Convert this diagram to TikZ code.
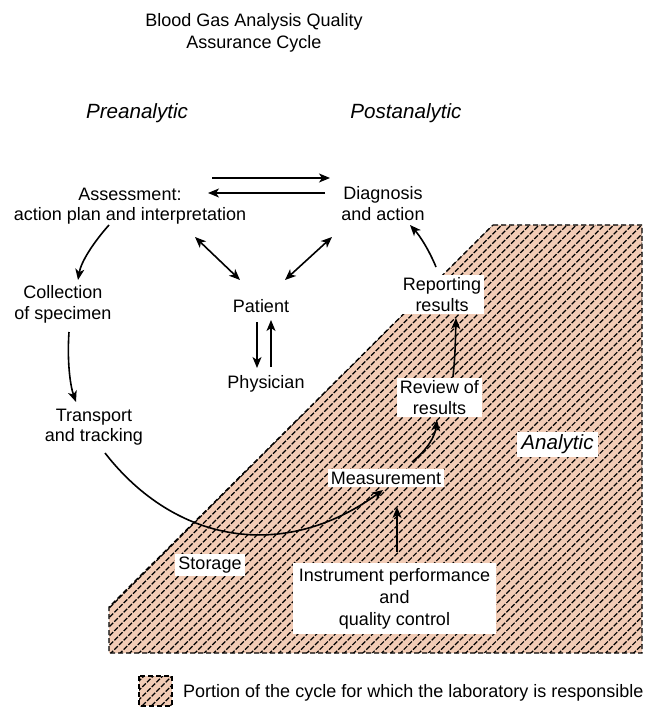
\documentclass[tikz,border=0pt]{standalone}
\usepackage{fontspec}
\setmainfont{Liberation Sans}
\usetikzlibrary{arrows.meta,patterns.meta}
\definecolor{peach}{RGB}{242,204,182}
\begin{document}
\begin{tikzpicture}[x=1pt,y=-1pt,
  lbl/.style={align=center,font=\fontsize{18}{20.5}\selectfont,inner sep=0pt},
  box/.style={lbl,fill=white,inner xsep=3pt,inner ysep=3pt},
  head/.style={font=\fontsize{20.6}{23}\selectfont\itshape,inner sep=0pt},
  tip/.style={Stealth[length=11pt,width=9pt,inset=3pt]},
  arr/.style={line width=1.6pt,-{Stealth[length=11pt,width=9pt,inset=3pt]}},
  darr/.style={line width=1.6pt,{Stealth[length=11pt,width=9pt,inset=3pt]}-{Stealth[length=11pt,width=9pt,inset=3pt]}},
  region/.style={fill=peach,draw=black,line width=1.4pt,dash pattern=on 5pt off 3pt,
    postaction={pattern={Lines[angle=45,distance=6.6pt,line width=1.2pt]},pattern color=black}}
]
\useasboundingbox (0,0) rectangle (652,708);

% laboratory region
\draw[region] (493,225) -- (642,225) -- (642,653) -- (109,653) -- (109,607) -- cycle;

% texts
\node[lbl,font=\fontsize{18}{21.5}\selectfont] (title) at (254,33) {Blood Gas Analysis Quality\\Assurance Cycle};
\node[head] (pre) at (137,113.6) {Preanalytic};
\node[head] (post) at (406,113.6) {Postanalytic};
\node[lbl] (assess) at (130,206) {Assessment:\\action plan and interpretation};
\node[lbl] (diag) at (383,203.5) {Diagnosis\\and action};
\node[lbl] (patient) at (261,306.5) {Patient};
\node[lbl] (phys) at (266,383.4) {Physician};
\node[lbl] (coll) at (63,304.4) {Collection\\of specimen};
\node[lbl] (trans) at (94,427.4) {Transport\\and tracking};

\node[box] (meas) at (386,478) {Measurement};
\node[box] (review) at (439.5,397.5) {Review of\\results};
\node[box] (report) at (442,294.5) {Reporting\\results};
\node[box,font=\fontsize{20.6}{23}\selectfont\itshape,inner xsep=4.5pt] (analytic) at (557.5,444.5) {Analytic};
\node[box] (storage) at (210,565) {Storage};
\node[box,font=\fontsize{18}{22}\selectfont,inner xsep=6pt,inner ysep=5pt] (inst) at (394.5,598.5) {Instrument performance\\and\\quality control};

% connector end points
\coordinate (ad1) at (212,178); \coordinate (ad2) at (330,178);
\coordinate (da1) at (325,193); \coordinate (da2) at (208,193);
\coordinate (ap1) at (195,237); \coordinate (ap2) at (240,280);
\coordinate (dp1) at (332,237); \coordinate (dp2) at (285,280);
\coordinate (pp1) at (257,322); \coordinate (pp2) at (257,368);
\coordinate (hp1) at (271,367); \coordinate (hp2) at (271,320);
\coordinate (ac1) at (109,225); \coordinate (ac2) at (78,280);
\coordinate (ct1) at (69,332);  \coordinate (ct2) at (76,402);
\coordinate (tm1) at (105,453); \coordinate (tm2) at (383,490);
\coordinate (mr1) at (412,462); \coordinate (mr2) at (437,420);
\coordinate (rr1) at (453,377); \coordinate (rr2) at (456,318);
\coordinate (rd1) at (436,267); \coordinate (rd2) at (410,225);
\coordinate (im1) at (397,552); \coordinate (im2) at (397,507);

% connectors
\draw[arr] (ad1) -- (ad2);
\draw[arr] (da1) -- (da2);
\draw[darr] (ap1) -- (ap2);
\draw[darr] (dp1) -- (dp2);
\draw[arr] (pp1) -- (pp2);
\draw[arr] (hp1) -- (hp2);
\draw[arr] (ac1) .. controls (93,243) and (81,262) .. (ac2);
\draw[arr] (ct1) .. controls (67,360) and (70,385) .. (ct2);
\draw[arr] (tm1) .. controls (175,543) and (283,562) .. (tm2);
\draw[arr] (mr1) .. controls (428,449) and (435,436) .. (mr2);
\draw[arr] (rr1) .. controls (455,355) .. (rr2);
\draw[arr] (rd1) .. controls (429,250) and (420,236) .. (rd2);
\draw[arr] (im1) -- (im2);

% legend
\draw[region,line width=1.2pt] (139,676) rectangle (172,706);
\node[lbl,anchor=base west] (legend) at (183,697) {Portion of the cycle for which the laboratory is responsible};
\end{tikzpicture}
\end{document}
